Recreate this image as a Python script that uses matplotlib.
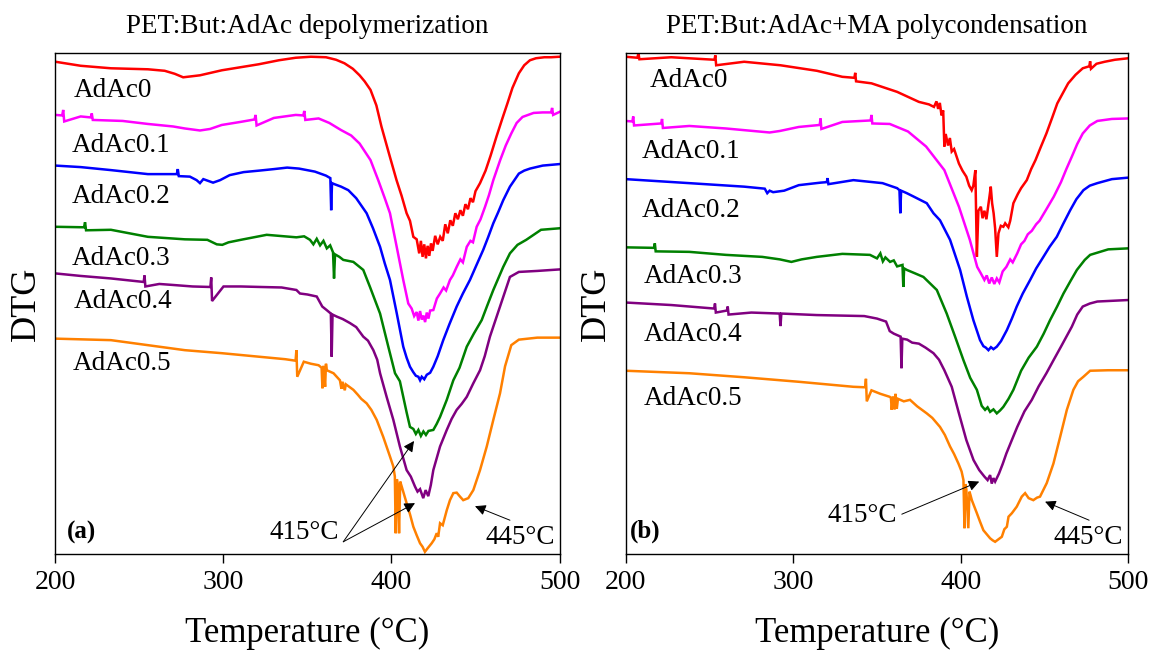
import matplotlib
matplotlib.use("Agg")
import matplotlib.pyplot as plt

# ---------------------------------------------------------------------------
# Data (DTG in arbitrary units, curves offset for display)
# ---------------------------------------------------------------------------
SAMPLES = ["AdAc0", "AdAc0.1", "AdAc0.2", "AdAc0.3", "AdAc0.4", "AdAc0.5"]
X_TICKS = [200, 300, 400, 500]

# (a) PET:But:AdAc depolymerization
dep0_t = [200, 215, 233, 255, 265, 271, 276, 281, 286, 299, 310, 321, 333, 343, 352, 361, 367, 372, 377, 381,
          384, 387.5, 391, 394, 398.5, 403, 406, 409, 411, 413, 415, 416.5, 417.5, 418.5, 419.5, 420.5, 421.5,
          422.5, 423.5, 424.5, 426, 427.5, 429, 430.5, 432, 433.5, 435, 436.5, 438, 439.5, 441, 442.5, 444,
          445.5, 447, 448.5, 450, 452.7, 456, 459, 462.5, 466, 469, 472, 475.8, 479, 482.4, 486, 491, 495, 500]
dep0_y = [98.2, 97.4, 96.9, 96.7, 96.4, 95.8, 95.1, 95.3, 95.5, 96.5, 97.1, 97.7, 98.5, 99.0, 99.2, 99.1, 98.6,
          97.9, 96.8, 95.5, 94.3, 92.6, 89.5, 85.3, 79.9, 74.6, 71.5, 68.0, 66.5, 63.3, 62.8, 60.0, 62.5, 59.3,
          61.8, 59.0, 61.5, 59.5, 62.0, 60.5, 63.5, 61.8, 63.3, 62.5, 65.8, 64.0, 66.6, 65.5, 68.0, 66.8, 68.6,
          67.5, 69.8, 68.8, 71.0, 70.2, 72.4, 74.0, 76.5, 79.5, 83.3, 86.9, 89.9, 93.0, 95.9, 97.5, 98.5, 98.9,
          99.1, 99.1, 99.2]

dep1_t = [200, 204, 204.6, 205.2, 215, 221, 221.6, 222.2, 240, 255, 270, 277, 286, 292, 299, 310, 318.5, 319.1,
          319.7, 330, 343, 347.5, 348.1, 348.7, 356.6, 363, 369.9, 376, 381, 387.5, 392.1, 396, 399.1, 403.1,
          407, 410, 412, 413.5, 415, 416, 417, 418, 419, 420, 421, 422, 423, 424.9, 427, 428.9, 431, 432.5,
          434.8, 436.5, 438.8, 441, 442.5, 444.8, 447, 448.5, 450.7, 453, 455.7, 458, 460.6, 464.7, 468, 471.3,
          474.5, 478, 484.6, 490, 495, 495.6, 496.2, 500]
dep1_y = [87.6, 87.5, 88.6, 86.3, 87.3, 87.1, 87.9, 86.6, 86.4, 85.8, 85.3, 84.9, 84.5, 84.8, 85.6, 86.2, 86.7,
          87.6, 85.5, 87.0, 87.6, 87.5, 88.4, 86.6, 86.9, 86.0, 84.6, 83.5, 81.9, 78.6, 74.6, 71.0, 68.0, 61.3,
          54.7, 50.0, 49.0, 47.5, 48.3, 46.6, 48.5, 46.8, 47.6, 46.3, 48.2, 47.0, 48.6, 48.7, 51.0, 52.0, 53.2,
          52.6, 54.7, 55.6, 57.3, 58.8, 58.2, 61.3, 62.5, 62.2, 65.3, 66.8, 69.3, 71.6, 74.6, 78.6, 81.5, 83.9,
          86.0, 87.2, 88.0, 88.1, 88.1, 89.0, 87.6, 88.2]

dep2_t = [200, 215, 233, 255, 272.2, 272.8, 273.4, 280, 284, 286, 288, 293.8, 298, 303.7, 312, 321.3, 330, 337.9,
          345, 354.4, 361, 363.6, 364.1, 364.6, 366, 370, 374.3, 379, 385.2, 389, 393.2, 396, 399.1, 403.1, 407,
          409, 411, 413, 414.5, 416, 417, 418, 419.5, 421, 423, 424.9, 427.5, 430.8, 434.5, 438.8, 442.5, 446.7,
          450.5, 454.6, 457.5, 460.6, 463.5, 466.5, 470.5, 475.8, 479, 482.4, 490, 500]
dep2_y = [77.5, 77.2, 76.6, 75.8, 75.8, 76.8, 75.4, 75.3, 74.6, 74.0, 74.8, 74.1, 74.6, 75.6, 76.2, 76.5, 76.8,
          77.1, 76.9, 76.3, 75.5, 75.0, 68.6, 74.0, 73.8, 73.3, 72.6, 71.0, 68.0, 65.0, 61.3, 58.0, 54.7, 48.1,
          41.4, 39.2, 37.4, 36.3, 35.6, 35.4, 34.7, 35.4, 34.9, 35.8, 36.2, 37.4, 39.5, 42.7, 45.9, 49.4, 52.0,
          54.7, 57.6, 60.7, 63.2, 66.0, 68.2, 70.6, 73.3, 75.9, 76.5, 76.9, 77.5, 77.8]

dep3_t = [200, 217, 217.6, 218.2, 233, 255, 277, 290.4, 296, 299.3, 303, 310.3, 325.7, 343.4, 348, 351.5, 353.5,
          355.5, 357.5, 359.5, 361.5, 363.5, 365.2, 365.8, 366.4, 369, 371.3, 377.3, 383.2, 387.2, 393.2, 398.1,
          402.1, 405, 407, 409, 411, 413, 414.5, 416, 417.5, 419, 420.5, 422, 424.9, 426.9, 428.9, 432.9, 436.8,
          440.5, 444.8, 449, 453.7, 457, 460.6, 466.5, 470.5, 475, 480.2, 489, 500]
dep3_y = [65.3, 65.2, 66.2, 64.6, 64.7, 63.3, 62.8, 62.7, 61.8, 61.7, 62.2, 62.7, 63.7, 63.2, 63.4, 62.7, 61.8,
          62.9, 61.6, 62.5, 61.0, 61.6, 60.2, 55.0, 59.8, 59.3, 58.7, 58.3, 56.7, 53.3, 48.0, 41.4, 36.1, 34.5,
          31.4, 28.3, 25.4, 25.0, 24.0, 24.8, 23.6, 24.5, 23.8, 24.6, 24.8, 26.0, 27.4, 30.8, 34.7, 37.2, 41.4,
          44.0, 46.7, 49.6, 52.7, 57.3, 60.0, 61.7, 62.7, 64.7, 65.0]

dep4_t = [200, 215, 233, 252.5, 253, 253.5, 261.8, 270, 281.6, 292.2, 292.7, 293.2, 300, 310.3, 322, 334.6, 343.4,
          345.5, 350, 355.5, 358.8, 361.4, 363.9, 364.4, 364.9, 367.4, 371, 375.3, 379, 383.2, 386, 389.2, 391.5,
          393.2, 397.1, 401.1, 405, 409, 411.5, 414, 415.5, 417, 418.9, 420.3, 421.9, 423.4, 424.9, 428.9, 432.9,
          435.8, 438.8, 441.8, 444.8, 448.7, 452.7, 455.5, 458.6, 464.6, 470.5, 475.8, 486.8, 500]
dep4_y = [56.0, 55.5, 55.0, 54.3, 55.6, 53.4, 53.9, 53.7, 53.4, 53.3, 55.2, 50.5, 53.4, 53.4, 53.3, 53.2, 52.7,
          52.0, 51.8, 51.4, 49.4, 48.7, 48.0, 39.4, 47.8, 47.4, 46.9, 46.1, 45.3, 43.4, 42.6, 40.7, 38.8, 36.1,
          31.4, 26.8, 21.5, 16.8, 15.5, 13.5, 12.5, 13.0, 11.2, 12.8, 11.6, 13.8, 16.8, 21.5, 24.8, 27.0, 28.8,
          30.0, 31.4, 34.1, 36.7, 39.5, 43.4, 49.4, 55.3, 56.3, 56.5, 56.8]

dep5_t = [200, 233, 255, 277, 299, 321, 336.8, 342.9, 343.4, 343.9, 347.8, 352, 356.6, 358.4, 358.9, 359.5, 360.5,
          361.0, 361.5, 365.5, 369.3, 370.2, 370.8, 372.2, 372.8, 377.3, 380, 382, 385.2, 388, 391.2, 395.1,
          399.1, 401.1, 402.0, 402.5, 403.2, 403.8, 404.5, 405.2, 406.1, 409, 411, 413, 415, 417, 418.5, 419.9,
          421.5, 423.9, 425.5, 426.9, 427.8, 428.9, 430.5, 432.9, 434.8, 436.8, 438.8, 440.8, 442.7, 445.7,
          448.7, 452.7, 456.7, 460.6, 464.6, 467.6, 471.3, 475.8, 486.8, 500]
dep5_y = [43.0, 42.7, 41.7, 40.7, 40.1, 39.4, 38.9, 38.6, 40.7, 35.4, 38.4, 38.0, 37.7, 37.2, 33.1, 37.6, 33.4,
          38.0, 36.7, 36.1, 34.7, 33.0, 34.4, 32.7, 33.9, 32.8, 31.8, 31.0, 30.1, 28.8, 26.8, 23.4, 19.5, 17.5,
          15.5, 4.2, 15.0, 13.8, 4.2, 14.5, 13.5, 10.2, 8.0, 5.5, 3.8, 2.2, 1.5, 0.5, 1.2, 2.2, 3.0, 4.2, 3.5,
          6.2, 5.8, 8.8, 10.8, 12.2, 12.3, 11.5, 10.8, 11.2, 12.8, 16.8, 21.5, 26.8, 32.1, 37.5, 41.7, 42.8,
          43.2, 43.2]

# (b) PET:But:AdAc+MA polycondensation
pc0_t = [200, 207, 207.6, 208.2, 227.2, 253, 253.5, 254, 270.7, 292.4, 314.1, 329.3, 336.5, 337, 337.5, 346.7,
         362, 375, 381, 384, 385.5, 386.5, 387.5, 388.5, 389.5, 390.2, 391, 392.4, 393.5, 394.6, 396, 398.9, 401,
         403.3, 405, 406.5, 407.5, 408.7, 409.6, 410.5, 412, 413, 414.1, 415.3, 416.3, 417.2, 417.9, 418.7,
         419.6, 420.5, 421.5, 422.5, 423.9, 425.4, 426.5, 428.4, 429.5, 431.4, 434, 436, 439.4, 442, 444.6,
         447.5, 451.1, 454.5, 457.6, 461, 464.1, 468.5, 472.8, 476.7, 477.2, 477.7, 481, 485.9, 492, 500]
pc0_y = [99.2, 99.0, 99.9, 98.7, 99.1, 98.6, 99.5, 97.5, 98.2, 97.5, 96.4, 95.2, 95.0, 96.0, 94.3, 93.9, 92.2,
         90.2, 89.7, 89.2, 90.3, 88.8, 90.0, 87.5, 88.5, 81.3, 83.8, 81.5, 83.0, 80.3, 80.8, 77.9, 76.5, 75.3,
         73.5, 72.6, 73.5, 76.6, 59.3, 68.5, 69.3, 67.0, 68.5, 66.8, 69.3, 71.5, 73.3, 70.0, 68.0, 65.0, 59.3,
         64.0, 65.5, 65.3, 66.0, 65.2, 66.5, 70.0, 71.8, 73.0, 74.6, 76.8, 78.6, 81.0, 83.9, 87.0, 89.9, 92.0,
         93.9, 95.6, 96.9, 97.3, 98.3, 96.8, 97.8, 98.2, 98.6, 98.9]

pc1_t = [200, 204, 204.5, 205, 221.2, 221.7, 222.2, 238, 259.8, 285.9, 292, 303.3, 315.8, 316.3, 316.8, 329.3,
         346.2, 346.7, 347.2, 357.6, 368.5, 379.3, 390.2, 398.9, 405.4, 409.8, 412, 414.1, 415.5, 417, 418.5,
         420, 421.5, 423, 425, 427.2, 429.5, 431, 433.7, 436, 438, 440, 442.4, 445, 447, 451.1, 455.5, 459.8,
         463, 466.3, 469.5, 472.8, 477, 481.5, 490.2, 500]
pc1_y = [86.4, 86.3, 87.3, 85.5, 85.9, 86.8, 85.0, 85.4, 84.9, 84.1, 84.4, 85.2, 85.6, 86.9, 84.8, 86.2, 86.5,
         87.6, 85.9, 85.8, 84.3, 81.3, 76.6, 69.3, 62.7, 57.3, 56.0, 54.7, 55.6, 54.0, 55.2, 53.9, 55.0, 54.2,
         56.4, 57.3, 58.8, 58.2, 60.0, 61.8, 62.5, 63.8, 64.5, 65.8, 66.5, 68.8, 71.3, 74.2, 76.8, 79.3, 81.8,
         83.9, 85.5, 86.4, 86.8, 86.9]

pc2_t = [200, 238, 270.7, 283, 284.5, 285.9, 288, 294.6, 303.3, 316.3, 320, 320.5, 321, 335.9, 353.3, 362, 363.4,
         363.9, 364.4, 367.8, 372, 379.7, 383.7, 387.6, 393.6, 399.6, 403.6, 407.5, 411.5, 413.5, 415, 416.5,
         418, 419.5, 421.5, 424, 427.5, 430.5, 433.4, 437, 441.4, 445, 449.3, 453, 457.3, 461, 465.3, 469, 473.2,
         477, 481.5, 490.2, 500]
pc2_y = [74.8, 74.0, 73.3, 72.9, 72.0, 72.5, 72.2, 72.5, 73.6, 74.1, 74.2, 75.0, 73.8, 74.6, 74.0, 73.0, 72.6,
         68.0, 72.5, 72.0, 71.3, 70.0, 68.0, 66.6, 62.7, 56.7, 51.4, 46.7, 42.7, 41.5, 41.2, 40.7, 41.3, 40.9,
         41.4, 42.5, 44.7, 47.0, 49.4, 52.0, 54.7, 57.0, 59.3, 61.3, 63.3, 65.8, 68.6, 70.8, 72.6, 73.5, 74.0,
         74.8, 75.1]

pc3_t = [200, 216.9, 217.4, 217.9, 238, 259.8, 281.5, 292, 298.9, 305, 314.1, 329.3, 345.8, 350, 352, 353.5,
         355, 357.8, 360, 362, 365.2, 365.7, 366.2, 367.8, 372.8, 377.7, 385.7, 391.6, 396.6, 401.6, 405.6,
         409.6, 412.5, 414.5, 416, 417.5, 419.5, 421.5, 423.5, 425.4, 428.5, 431.4, 436, 440.5, 445.4, 449.5,
         453.3, 457.5, 461.3, 465.5, 469.3, 474, 477.2, 488, 500]
pc3_y = [61.2, 61.1, 62.0, 60.4, 60.3, 59.7, 59.3, 58.8, 58.3, 58.8, 59.3, 59.9, 59.7, 59.0, 60.0, 58.4, 59.2,
         58.3, 58.6, 57.4, 57.7, 53.3, 57.0, 56.7, 56.0, 55.3, 52.7, 48.0, 43.4, 38.7, 35.2, 32.8, 29.6, 28.8,
         29.3, 28.4, 28.9, 28.1, 28.7, 29.4, 31.0, 32.8, 36.6, 39.2, 41.4, 44.0, 46.7, 49.4, 52.0, 54.5, 56.7,
         58.7, 59.7, 60.8, 61.0]

pc4_t = [200, 227.2, 252.8, 253.3, 253.8, 260.4, 260.9, 261.4, 275, 291.9, 292.4, 292.9, 314.1, 342.4, 350,
         355.4, 357.6, 360, 364.1, 364.6, 365.1, 368, 371, 375, 379, 383.7, 387, 390.2, 394.6, 398.9, 403.3,
         407.6, 411, 414.1, 416, 417.5, 418.5, 419.5, 420.5, 422.8, 425, 427.2, 430.5, 433.7, 438, 442.4, 446.5,
         451.1, 455.5, 459.8, 466.3, 469.5, 472.8, 477, 481.5, 500]
pc4_y = [50.2, 49.7, 49.0, 50.0, 48.2, 48.6, 49.4, 47.8, 48.2, 48.0, 45.5, 48.0, 47.7, 47.5, 47.0, 46.4, 44.5,
         44.0, 43.4, 37.1, 43.0, 42.8, 42.2, 42.0, 41.2, 40.1, 38.8, 36.7, 33.4, 28.1, 22.8, 18.8, 16.8, 15.5,
         14.8, 15.8, 14.1, 15.2, 14.5, 16.1, 18.0, 20.1, 22.8, 25.4, 28.5, 30.8, 33.5, 36.1, 38.8, 41.4, 45.4,
         47.8, 49.4, 50.0, 50.4, 50.7]

pc5_t = [200, 238, 270.7, 303.3, 335.9, 342.9, 343.4, 343.9, 346.7, 352, 357.6, 358.3, 358.8, 359.5, 360.5, 361,
         361.8, 362.5, 366, 369.7, 374, 379.7, 383, 387.6, 390.5, 393.6, 396, 398.6, 400.5, 401.6, 402.2, 402.7,
         403.3, 404.5, 405.2, 405.8, 406.6, 409.6, 411.5, 413.5, 415.5, 417.5, 419, 420.5, 422.5, 424.5, 426,
         427.5, 428.5, 430.5, 433.4, 436.4, 438.4, 440.5, 443.3, 445.5, 447.3, 451.3, 455.3, 459.3, 463.3,
         467.2, 470, 473.2, 477.2, 488, 500]
pc5_y = [36.6, 36.1, 35.3, 34.4, 33.4, 33.3, 35.0, 30.5, 32.7, 32.0, 31.4, 31.2, 28.8, 31.5, 28.9, 32.0, 29.0,
         31.0, 30.5, 30.8, 29.5, 28.1, 27.2, 25.4, 23.8, 21.5, 20.0, 18.1, 16.5, 14.8, 5.2, 14.0, 13.0, 5.2,
         12.5, 11.8, 10.8, 8.2, 6.5, 4.8, 4.0, 3.2, 2.8, 2.5, 3.0, 3.5, 5.0, 5.5, 7.5, 8.2, 9.5, 11.5, 12.2,
         11.2, 10.8, 11.3, 11.5, 14.2, 18.1, 23.4, 28.8, 32.8, 34.5, 35.4, 36.6, 36.7, 36.7]

# curve-label anchor (left x, vertical centre) per sample
dep_label_t = [211.0, 209.5, 209.5, 209.5, 211.0, 210.4]
dep_label_y = [92.5, 81.6, 71.3, 59.0, 50.4, 38.1]
pc_label_t = [214.1, 209.8, 209.8, 210.9, 210.9, 210.9]
pc_label_y = [94.5, 80.3, 68.6, 55.3, 43.9, 31.0]

COLORS = ["#ff0000", "#ff00ff", "#0000ff", "#008000", "#800080", "#ff8000"]

plt.rcParams["font.family"] = ["Liberation Serif", "DejaVu Serif"]


def draw_panel(ax, curves, label_t, label_y, title):
    for (t, y), name, color, lt, ly in zip(curves, SAMPLES, COLORS, label_t, label_y):
        ax.plot(t, y, color=color, lw=1.8, solid_joinstyle="miter")
        ax.text(lt, ly, name, fontsize=19.5, ha="left", va="center")

    ax.set_xlim(200, 500)
    ax.set_ylim(0, 100)
    ax.set_xticks(X_TICKS)
    ax.set_yticks([])
    ax.tick_params(axis="x", direction="out", length=6.5, width=1, labelsize=20, pad=4.5, top=False)
    for sp in ax.spines.values():
        sp.set_linewidth(1.0)

    ax.set_title(title, fontsize=19.5, pad=14)
    ax.set_xlabel("Temperature (°C)", fontsize=25)
    ax.xaxis.label.set_va("center")
    ax.xaxis.set_label_coords(0.5, -0.157)
    ax.set_ylabel("DTG", fontsize=26)
    ax.yaxis.label.set(rotation_mode="default", va="center")
    ax.yaxis.set_label_coords(-0.058, 0.5)


def arrow(ax, tip, tail):
    ax.annotate("", xy=tip, xytext=tail,
                arrowprops=dict(arrowstyle="-|>", color="black", lw=0.7,
                                mutation_scale=16, shrinkA=0, shrinkB=0))


fig = plt.figure(figsize=(11.51, 6.51), dpi=100)
ax_a = fig.add_axes([0.0482, 0.1485, 0.4379, 0.7705])
ax_b = fig.add_axes([0.5436, 0.1485, 0.4367, 0.7705])

draw_panel(ax_a,
           [(dep0_t, dep0_y), (dep1_t, dep1_y), (dep2_t, dep2_y),
            (dep3_t, dep3_y), (dep4_t, dep4_y), (dep5_t, dep5_y)],
           dep_label_t, dep_label_y, "PET:But:AdAc depolymerization")
draw_panel(ax_b,
           [(pc0_t, pc0_y), (pc1_t, pc1_y), (pc2_t, pc2_y),
            (pc3_t, pc3_y), (pc4_t, pc4_y), (pc5_t, pc5_y)],
           pc_label_t, pc_label_y, "PET:But:AdAc+MA polycondensation")

# panel (a) annotations
ax_a.text(206.8, 4.3, "(a)", fontsize=18, fontweight="bold", ha="left", va="center")
ax_a.text(368.5, 4.3, "415°C", fontsize=19.5, ha="right", va="center")
arrow(ax_a, (413.4, 22.6), (371.3, 2.5))
arrow(ax_a, (414.0, 10.2), (371.3, 2.5))
ax_a.text(455.7, 3.3, "445°C", fontsize=19.5, ha="left", va="center")
arrow(ax_a, (449.7, 9.6), (470.5, 6.8))

# panel (b) annotations
ax_b.text(202.4, 4.6, "(b)", fontsize=18, fontweight="bold", ha="left", va="center")
ax_b.text(362.0, 7.7, "415°C", fontsize=19.5, ha="right", va="center")
arrow(ax_b, (411.0, 14.5), (364.8, 8.0))
ax_b.text(455.4, 3.4, "445°C", fontsize=19.5, ha="left", va="center")
arrow(ax_b, (450.3, 10.5), (476.6, 6.8))

fig.savefig("out.png", dpi=100)
plt.close(fig)
